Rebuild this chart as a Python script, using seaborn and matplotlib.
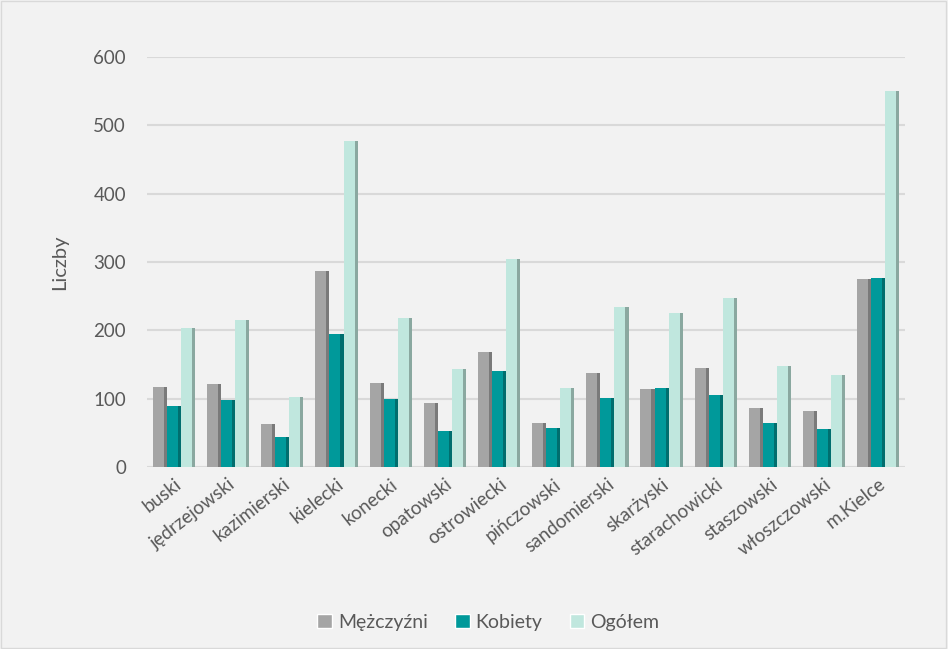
import pandas as pd
import matplotlib.pyplot as plt
import matplotlib.patches as mpatches
import seaborn as sns

powiaty = ["buski", "jędrzejowski", "kazimierski", "kielecki", "konecki",
           "opatowski", "ostrowiecki", "pińczowski", "sandomierski",
           "skarżyski", "starachowicki", "staszowski", "włoszczowski",
           "m.Kielce"]
mezczyzni = [117, 121, 63, 287, 123, 94, 168, 64, 138, 114, 145, 86, 82, 275]
kobiety = [89, 98, 44, 195, 100, 53, 140, 57, 101, 116, 105, 64, 56, 277]
ogolem = [203, 215, 102, 477, 218, 143, 304, 116, 234, 225, 247, 148, 135, 550]
serie = ["Mężczyźni", "Kobiety", "Ogółem"]
kolory = ["#A5A5A5", "#00999A", "#C0E7DE"]
cienie = ["#7a7a7a", "#006e6e", "#8aa8a0"]

df = pd.DataFrame({"powiat": powiaty * 3,
                   "seria": [serie[0]] * 14 + [serie[1]] * 14 + [serie[2]] * 14,
                   "wartosc": mezczyzni + kobiety + ogolem})

sns.set_style("white")
plt.rcParams["font.family"] = ["Lato", "DejaVu Sans"]
txt = "#595959"

fig = plt.figure(figsize=(9.48, 6.49), dpi=100, facecolor="#F2F2F2")
ax = fig.add_axes([0.155, 0.2804, 0.80, 0.632])
ax.set_facecolor("#F2F2F2")

sns.barplot(data=df, x="powiat", y="wartosc", hue="seria", hue_order=serie,
            palette=kolory, width=0.78, saturation=1, ax=ax, zorder=3)

# simple side shading for the 3D look
for cont, cien in zip(ax.containers, cienie):
    for p in cont.patches:
        w = p.get_width() * 0.22
        ax.add_patch(mpatches.Rectangle((p.get_x() + p.get_width() - w, 0),
                                        w, p.get_height(), color=cien,
                                        zorder=3.5, lw=0))
        p.set_edgecolor("none")

ax.set_ylim(0, 600)
ax.set_xlim(-0.5, 13.5)
ax.set_yticks(range(0, 601, 100))
ax.yaxis.grid(True, color="#D9D9D9", lw=1.5, zorder=0)
for s in ax.spines.values():
    s.set_visible(False)
ax.tick_params(axis="both", length=0, colors=txt, labelsize=13.5)
ax.tick_params(axis="y", pad=15)
ax.tick_params(axis="x", pad=6)
plt.setp(ax.get_xticklabels(), rotation=38, ha="right",
         rotation_mode="anchor")
ax.set_xlabel("")
ax.set_ylabel("Liczby", color=txt, fontsize=14.5, labelpad=18)

ax.legend(loc="upper center", bbox_to_anchor=(0.45, -0.315), ncol=3,
          frameon=False, fontsize=14, labelcolor=txt, handlelength=0.75,
          handleheight=0.75, handletextpad=0.3, columnspacing=1.4)

fig.patches.append(mpatches.Rectangle((0.001, 0.001), 0.997, 0.997,
                                      transform=fig.transFigure, fill=False,
                                      edgecolor="#D9D9D9", lw=1))

fig.savefig("out.png", dpi=100, facecolor=fig.get_facecolor())
